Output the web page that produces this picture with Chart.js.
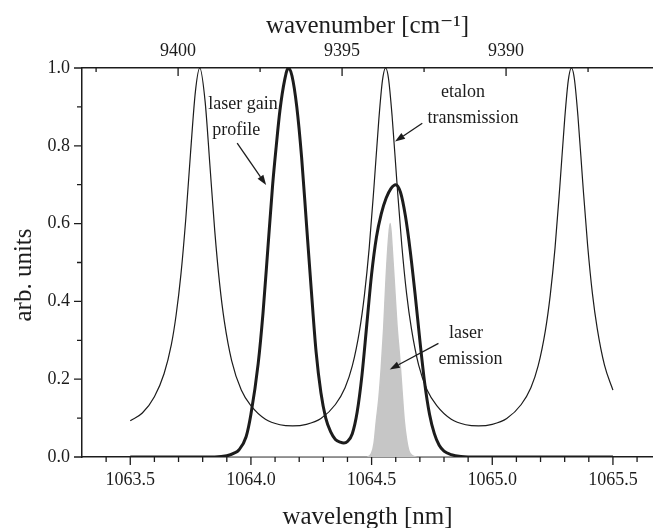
<!DOCTYPE html>
<html>
<head>
<meta charset="utf-8">
<script src="https://cdn.jsdelivr.net/npm/chart.js@4.4.0/dist/chart.umd.min.js"></script>
<style>
  html, body { margin: 0; padding: 0; background: #fff; }
</style>
</head>
<body>
<canvas id="chart" width="653" height="528"></canvas>
<script>
// wavelength (nm) / value pairs
const etalonWl = [1063.50, 1063.55, 1063.60, 1063.64, 1063.67, 1063.69, 1063.71, 1063.73, 1063.75, 1063.77, 1063.788,
  1063.81, 1063.83, 1063.85, 1063.87, 1063.89, 1063.92, 1063.96, 1064.00, 1064.06, 1064.12, 1064.173,
  1064.23, 1064.29, 1064.35, 1064.39, 1064.42, 1064.45, 1064.47, 1064.49, 1064.51, 1064.53, 1064.545, 1064.558,
  1064.57, 1064.585, 1064.605, 1064.625, 1064.645, 1064.665, 1064.695, 1064.73, 1064.77, 1064.83, 1064.89, 1064.943,
  1065.00, 1065.06, 1065.12, 1065.16, 1065.19, 1065.22, 1065.24, 1065.26, 1065.28, 1065.30, 1065.315, 1065.328,
  1065.34, 1065.355, 1065.375, 1065.395, 1065.415, 1065.435, 1065.465, 1065.50];
const etalonT = [0.093, 0.113, 0.155, 0.214, 0.288, 0.365, 0.470, 0.612, 0.784, 0.940, 1.0,
  0.915, 0.750, 0.582, 0.447, 0.348, 0.248, 0.172, 0.132, 0.097, 0.083, 0.080,
  0.084, 0.099, 0.135, 0.178, 0.234, 0.325, 0.415, 0.537, 0.696, 0.868, 0.968, 1.0,
  0.973, 0.876, 0.705, 0.545, 0.420, 0.330, 0.236, 0.172, 0.132, 0.097, 0.083, 0.080,
  0.084, 0.099, 0.135, 0.178, 0.234, 0.325, 0.415, 0.537, 0.696, 0.868, 0.968, 1.0,
  0.973, 0.876, 0.705, 0.545, 0.420, 0.330, 0.236, 0.172];

const gainWl = [1063.50, 1063.85, 1063.90, 1063.93, 1063.95, 1063.98, 1064.00, 1064.03, 1064.05, 1064.07, 1064.09,
  1064.105, 1064.12, 1064.14, 1064.155, 1064.17, 1064.19, 1064.21, 1064.23, 1064.25, 1064.27, 1064.29, 1064.31,
  1064.33, 1064.35, 1064.37, 1064.385, 1064.40, 1064.42, 1064.44, 1064.46, 1064.48, 1064.50, 1064.52, 1064.54,
  1064.56, 1064.58, 1064.60, 1064.62, 1064.64, 1064.66, 1064.68, 1064.70, 1064.72, 1064.74, 1064.76, 1064.78,
  1064.80, 1064.83, 1064.87, 1064.90, 1065.50];
const gainVal = [0, 0, 0.003, 0.01, 0.018, 0.052, 0.11, 0.24, 0.37, 0.535, 0.70,
  0.80, 0.89, 0.97, 1.0, 0.98, 0.90, 0.77, 0.60, 0.43, 0.27, 0.165, 0.10,
  0.065, 0.045, 0.038, 0.036, 0.04, 0.06, 0.115, 0.21, 0.34, 0.47, 0.565, 0.625,
  0.665, 0.69, 0.70, 0.68, 0.62, 0.53, 0.42, 0.30, 0.19, 0.11, 0.06, 0.03,
  0.015, 0.006, 0.001, 0, 0];

const emissionWl = [1063.90, 1064.48, 1064.50, 1064.51, 1064.52, 1064.53, 1064.54, 1064.55, 1064.56, 1064.57, 1064.577,
  1064.585, 1064.597, 1064.605, 1064.617, 1064.625, 1064.635, 1064.645, 1064.655, 1064.67, 1064.69, 1064.95];
const emissionVal = [0, 0, 0.01, 0.035, 0.095, 0.15, 0.23, 0.33, 0.46, 0.56, 0.60,
  0.54, 0.42, 0.34, 0.25, 0.18, 0.095, 0.045, 0.015, 0.003, 0, 0];

// axis ticks
const wlMajor = [1063.5, 1064.0, 1064.5, 1065.0, 1065.5];
const wlMinor = [1063.4, 1063.6, 1063.7, 1063.8, 1063.9, 1064.1, 1064.2, 1064.3, 1064.4,
  1064.6, 1064.7, 1064.8, 1064.9, 1065.1, 1065.2, 1065.3, 1065.4, 1065.6];
const wnMajor = [9400, 9395, 9390];
const wnMinor = [9402.5, 9397.5, 9392.5, 9387.5];
const yMajor = [0, 0.2, 0.4, 0.6, 0.8, 1.0];
const yMinor = [0.1, 0.3, 0.5, 0.7, 0.9];

const ink = '#1c1c1c';
const serif = '"Liberation Serif", "DejaVu Serif", serif';

const toPoints = (xs, ys) => xs.map((x, i) => ({ x: x, y: ys[i] }));

// labels and arrows, in data coordinates
const notes = [
  { text: 'laser gain', x: 1063.823, y: 0.895 },
  { text: 'profile', x: 1063.840, y: 0.829 },
  { text: 'etalon', x: 1064.788, y: 0.925 },
  { text: 'transmission', x: 1064.732, y: 0.859 },
  { text: 'laser', x: 1064.821, y: 0.305 },
  { text: 'emission', x: 1064.777, y: 0.240 },
];
const arrows = [
  { from: [1063.943, 0.807], to: [1064.063, 0.699] },
  { from: [1064.710, 0.858], to: [1064.597, 0.811] },
  { from: [1064.777, 0.292], to: [1064.575, 0.225] },
];

const tickMarks = {
  id: 'tickMarks',
  afterDraw(chart) {
    const { ctx, chartArea: a, scales } = chart;
    ctx.save();
    ctx.strokeStyle = ink;
    ctx.lineWidth = 1.3;
    ctx.beginPath();
    const down = (scale, vals, y0, len) => vals.forEach(v => {
      const p = scale.getPixelForValue(v);
      ctx.moveTo(p, y0); ctx.lineTo(p, y0 + len);
    });
    down(scales.x, wlMajor, a.bottom, 8);
    down(scales.x, wlMinor, a.bottom, 5);
    down(scales.x2, wnMajor, a.top, 8);
    down(scales.x2, wnMinor, a.top, 4);
    const left = (vals, len) => vals.forEach(v => {
      const p = scales.y.getPixelForValue(v);
      ctx.moveTo(a.left, p); ctx.lineTo(a.left - len, p);
    });
    left(yMajor, 8);
    left(yMinor, 5);
    ctx.stroke();
    ctx.restore();
  }
};

const annotations = {
  id: 'annotations',
  afterDatasetsDraw(chart) {
    const { ctx, scales } = chart;
    const px = v => scales.x.getPixelForValue(v);
    const py = v => scales.y.getPixelForValue(v);
    ctx.save();
    ctx.fillStyle = ink;
    ctx.font = '18px ' + serif;
    ctx.textAlign = 'left';
    ctx.textBaseline = 'alphabetic';
    notes.forEach(n => ctx.fillText(n.text, px(n.x), py(n.y)));
    ctx.strokeStyle = ink;
    ctx.lineWidth = 1.3;
    arrows.forEach(ar => {
      const x0 = px(ar.from[0]), y0 = py(ar.from[1]);
      const x1 = px(ar.to[0]), y1 = py(ar.to[1]);
      const ang = Math.atan2(y1 - y0, x1 - x0);
      const hl = 10, hw = 3.5;
      const bx = x1 - hl * Math.cos(ang), by = y1 - hl * Math.sin(ang);
      ctx.beginPath();
      ctx.moveTo(x0, y0);
      ctx.lineTo(bx, by);
      ctx.stroke();
      ctx.beginPath();
      ctx.moveTo(x1, y1);
      ctx.lineTo(bx + hw * Math.sin(ang), by - hw * Math.cos(ang));
      ctx.lineTo(bx - hw * Math.sin(ang), by + hw * Math.cos(ang));
      ctx.closePath();
      ctx.fill();
    });
    ctx.restore();
  }
};

const tickFont = { family: serif, size: 18 };
const titleFont = { family: serif, size: 25, lineHeight: 0.8 };

new Chart(document.getElementById('chart'), {
  type: 'line',
  data: {
    datasets: [
      {
        label: 'laser gain profile',
        data: toPoints(gainWl, gainVal),
        borderColor: ink,
        borderWidth: 3,
        pointRadius: 0,
        cubicInterpolationMode: 'monotone',
        fill: false,
        order: 1,
      },
      {
        label: 'etalon transmission',
        data: toPoints(etalonWl, etalonT),
        borderColor: ink,
        borderWidth: 1.2,
        pointRadius: 0,
        cubicInterpolationMode: 'monotone',
        fill: false,
        order: 2,
      },
      {
        label: 'laser emission',
        data: toPoints(emissionWl, emissionVal),
        borderColor: '#c6c6c6',
        backgroundColor: '#c6c6c6',
        borderWidth: 1.5,
        pointRadius: 0,
        cubicInterpolationMode: 'monotone',
        fill: 'origin',
        order: 3,
      },
    ],
  },
  options: {
    responsive: false,
    animation: false,
    layout: { padding: 0 },
    plugins: {
      legend: { display: false },
      tooltip: { enabled: false },
    },
    scales: {
      x: {
        type: 'linear',
        position: 'bottom',
        min: 1063.3,
        max: 1065.666,
        afterBuildTicks: s => { s.ticks = wlMajor.map(v => ({ value: v })); },
        afterFit: s => { s.height = 71; },
        ticks: { callback: v => v.toFixed(1), padding: 12, font: tickFont, color: ink, maxRotation: 0, autoSkip: false },
        grid: { display: false, drawTicks: false, tickLength: 0 },
        border: { display: true, color: ink, width: 1.5 },
        title: { display: true, text: 'wavelength [nm]', font: titleFont, color: ink, padding: { top: 0, bottom: 1 } },
      },
      x2: {
        type: 'linear',
        position: 'top',
        reverse: true,
        min: 9385.52,
        max: 9402.93,
        afterBuildTicks: s => { s.ticks = wnMajor.map(v => ({ value: v })); },
        afterFit: s => { s.height = 68; },
        ticks: { callback: v => String(v), padding: 6, font: tickFont, color: ink, maxRotation: 0, autoSkip: false },
        grid: { display: false, drawTicks: false, tickLength: 0 },
        border: { display: true, color: ink, width: 1.5 },
        title: { display: true, text: 'wavenumber [cm\u207B\u00B9]', font: titleFont, color: ink, padding: { top: 16, bottom: 0 } },
      },
      y: {
        type: 'linear',
        min: 0,
        max: 1,
        afterBuildTicks: s => { s.ticks = yMajor.map(v => ({ value: v })); },
        afterFit: s => { s.width = 82; },
        ticks: { callback: v => v.toFixed(1), padding: 12, font: tickFont, color: ink, autoSkip: false },
        grid: { display: false, drawTicks: false, tickLength: 0 },
        border: { display: true, color: ink, width: 1.5 },
        // trailing no-break spaces nudge the centred title down a little, as in the original
        title: { display: true, text: 'arb. units\u00A0\u00A0\u00A0\u00A0', font: titleFont, color: ink, padding: { top: 14, bottom: 0 } },
      },
    },
  },
  plugins: [tickMarks, annotations],
});
</script>
</body>
</html>
